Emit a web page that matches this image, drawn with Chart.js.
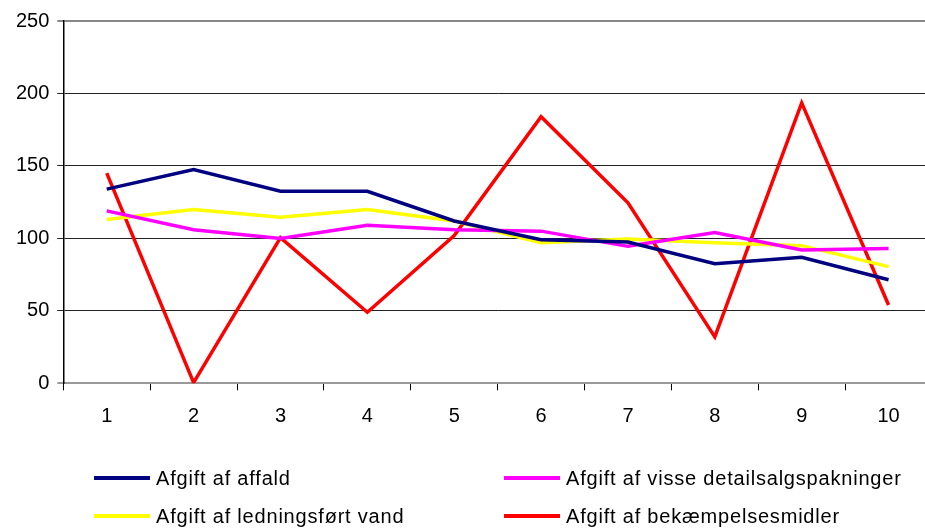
<!DOCTYPE html>
<html>
<head>
<meta charset="utf-8">
<script src="https://cdn.jsdelivr.net/npm/chart.js@4/dist/chart.umd.min.js"></script>
<style>
  html, body { margin: 0; padding: 0; background: #fff; overflow: hidden; }
  #wrap { position: relative; width: 935px; height: 528px; }
  #chartBox { position: absolute; left: 0; top: 0; width: 932px; height: 440px; }
  #legend { position: absolute; left: 0; top: 0; width: 925px; height: 528px; pointer-events: none; }
  .item { position: absolute; height: 24px; display: flex; align-items: center; white-space: nowrap;
          font-family: "Liberation Sans", Arial, sans-serif; font-size: 20px; letter-spacing: 0.8px; color: #000; }
  .item span.line { display: inline-block; width: 56px; height: 4px; margin-right: 6px; }
</style>
</head>
<body>
<div id="wrap">
  <div id="chartBox"><canvas id="chart"></canvas></div>
  <div id="legend"></div>
</div>
<script>
// categories
const categories = ["1", "2", "3", "4", "5", "6", "7", "8", "9", "10"];

// series values
const affald = [134, 147.5, 132.5, 132.5, 112, 99, 97.5, 82.5, 87, 71.5];
const detailsalg = [119, 106, 100, 109, 106, 105, 94.5, 104, 92, 93];
const vand = [113, 120, 114.5, 120, 112, 97, 99.5, 97, 95, 80.5];
const bekaempelse = [145, 0.5, 100.5, 49, 102, 184, 124.5, 32, 193.5, 54];

const seriesNames = ["Afgift af affald", "Afgift af visse detailsalgspakninger", "Afgift af ledningsført vand", "Afgift af bekæmpelsesmidler"];
const seriesColors = ["#000080", "#FF00FF", "#FFFF00", "#FF0000"];
const seriesData = [affald, detailsalg, vand, bekaempelse];

// y ticks
const yMin = 0, yMax = 250, yStep = 50;

const datasets = seriesData.map((d, i) => ({
  label: seriesNames[i],
  data: d,
  borderColor: seriesColors[i],
  backgroundColor: seriesColors[i],
  borderWidth: 3.5,
  pointRadius: 0,
  tension: 0,
  fill: false
}));

new Chart(document.getElementById("chart"), {
  type: "line",
  data: { labels: categories, datasets },
  options: {
    responsive: true,
    maintainAspectRatio: false,
    animation: false,
    layout: { padding: { top: 21, right: 0, left: 0, bottom: 0 } },
    plugins: { legend: { display: false }, tooltip: { enabled: false } },
    scales: {
      x: {
        offset: true,
        grid: { offset: true, drawOnChartArea: false, drawTicks: true, tickLength: 7, color: "#000" },
        border: { color: "#999", width: 2 },
        ticks: { color: "#000", padding: 14, font: { family: "Liberation Sans, Arial, sans-serif", size: 20 } },
        afterFit: s => { s.height = 440 - 383.3; }
      },
      y: {
        min: yMin, max: yMax,
        ticks: { stepSize: yStep, color: "#000", padding: 8, font: { family: "Liberation Sans, Arial, sans-serif", size: 20 } },
        grid: {
          tickLength: 6,
          color: c => c.tick && c.tick.value === yMax ? "#888" : (c.tick && c.tick.value === 0 ? "#999" : "#222"),
          lineWidth: c => c.tick && (c.tick.value === yMax || c.tick.value === 0) ? 2 : 1
        },
        border: { color: "#000", width: 1.5 },
        afterFit: s => { s.width = 63.3; }
      }
    }
  }
});

// legend in two columns below the chart
const legendPos = [[94, 478], [504, 478], [94, 516], [504, 516]];
const legendEl = document.getElementById("legend");
seriesNames.forEach((name, i) => {
  const el = document.createElement("div");
  el.className = "item";
  el.style.left = legendPos[i][0] + "px";
  el.style.top = (legendPos[i][1] - 12) + "px";
  el.innerHTML = '<span class="line" style="background:' + seriesColors[i] + '"></span>' + name;
  legendEl.appendChild(el);
});
</script>
</body>
</html>
